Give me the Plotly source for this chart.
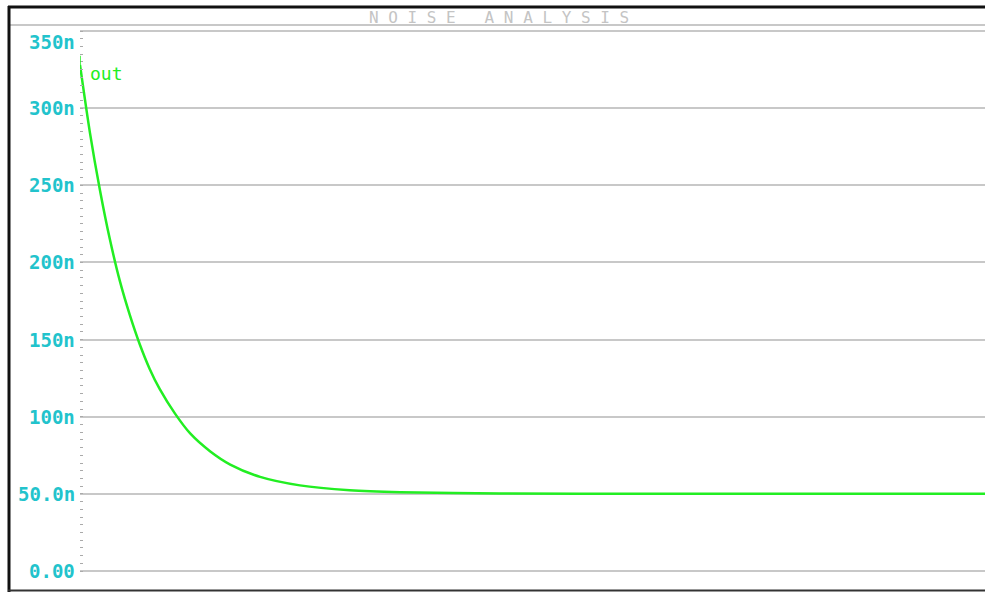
import plotly.graph_objects as go

# Sweep position (arbitrary units, 0..100) and output noise (in nV)
sweep = [0, 1.1, 2.2, 3.3, 4.4, 5.5, 6.6, 7.7, 8.8, 10.5, 12.2, 14.4, 16.6,
         19.9, 24.3, 29.8, 35.4, 46.4, 57.5, 100]
out_noise = [328, 284, 247, 215, 188, 166, 147, 131, 118, 102, 89, 77.5, 69,
             61, 55.5, 52.3, 51.0, 50.2, 50.0, 50.0]

ytick_vals = [0, 50, 100, 150, 200, 250, 300, 350]
ytick_labels = ["0.00", "50.0n", "100n", "150n", "200n", "250n", "300n", "350n"]

title_text = "N O I S E   A N A L Y S I S"
trace_name = "out"

W, H = 985, 592
# value 0 -> page y 571, value 350 -> page y 31; pad 2px each side
S = 540 / 350.0
PADV = 2 / S
L, R, T, B = 80, 0, 29, 19
pw = W - L - R
ph = H - T - B


def px_x(p):
    return (p - L) / pw


def px_y(p):
    return (H - B - p) / ph


fig = go.Figure()
fig.add_trace(go.Scatter(x=sweep, y=out_noise, mode="lines", name=trace_name,
                         line=dict(color="#22ee22", width=2.5, shape="spline",
                                   smoothing=0.8),
                         showlegend=False, hoverinfo="skip"))

annotations = []
for v, lab in zip(ytick_vals, ytick_labels):
    annotations.append(dict(
        x=px_x(77), xref="paper", y=v, yref="y", text="<b>" + lab + "</b>",
        showarrow=False, xanchor="right", yanchor="middle",
        yshift=-11 if v == 350 else 0,
        font=dict(family="DejaVu Sans Mono", size=19, color="#22c3cc")))

annotations.append(dict(
    x=px_x(88), xref="paper", y=px_y(73), yref="paper", text=trace_name,
    showarrow=False, xanchor="left", yanchor="middle",
    font=dict(family="DejaVu Sans Mono", size=18, color="#22ee22")))

annotations.append(dict(
    x=px_x(499), xref="paper", y=px_y(17), yref="paper", text=title_text,
    showarrow=False, xanchor="center", yanchor="middle",
    font=dict(family="DejaVu Sans Mono", size=16, color="#c4c4c4")))

shapes = [
    # header separator
    dict(type="line", xref="paper", yref="paper", x0=px_x(9), x1=px_x(985),
         y0=px_y(25), y1=px_y(25), line=dict(color="#c8c8c8", width=2)),
    # black frame
    dict(type="line", xref="paper", yref="paper", x0=px_x(8), x1=px_x(985),
         y0=px_y(7), y1=px_y(7), line=dict(color="#111111", width=3)),
    dict(type="line", xref="paper", yref="paper", x0=px_x(9), x1=px_x(9),
         y0=px_y(6), y1=px_y(592), line=dict(color="#111111", width=3)),
    dict(type="line", xref="paper", yref="paper", x0=px_x(8), x1=px_x(985),
         y0=px_y(590.5), y1=px_y(590.5), line=dict(color="#333333", width=2)),
    # small marker at curve start
    dict(type="line", xref="x", yref="y", x0=0, x1=0, y0=328, y1=334,
         line=dict(color="#22ee22", width=1.5)),
]

fig.update_layout(
    width=W, height=H,
    margin=dict(l=L, r=R, t=T, b=B, pad=0),
    paper_bgcolor="white", plot_bgcolor="white",
    xaxis=dict(range=[0, 100], showgrid=False, zeroline=False,
               showticklabels=False, ticks="", showline=False),
    yaxis=dict(range=[-PADV, 350 + PADV], tickvals=ytick_vals,
               showticklabels=False,
               showgrid=True, gridcolor="#c8c8c8", gridwidth=2,
               zeroline=False, showline=False,
               ticks="inside", ticklen=3, tickcolor="#aaaaaa", tickwidth=1,
               minor=dict(dtick=5, tick0=0, ticks="inside", ticklen=3,
                          tickcolor="#aaaaaa", tickwidth=1, showgrid=False)),
    annotations=annotations,
    shapes=shapes,
)

fig.write_html(
    "out.html",
    config={"displayModeBar": False},
    post_script="document.body.style.margin='0';"
                "document.body.style.overflow='hidden';",
)
